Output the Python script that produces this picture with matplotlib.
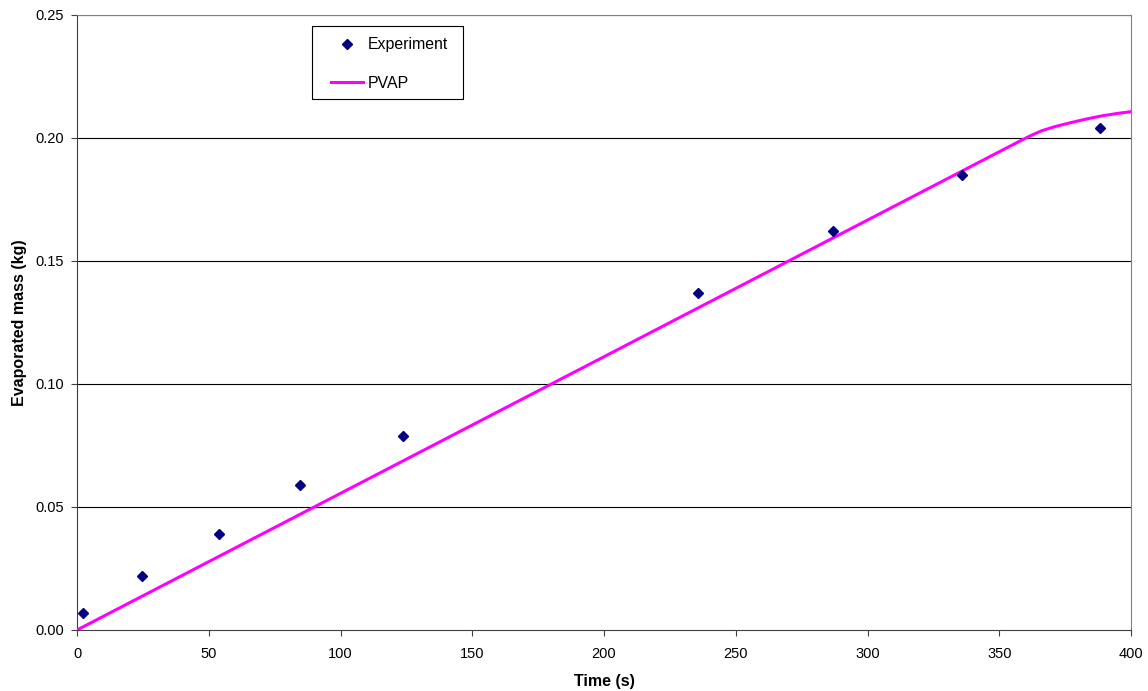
import matplotlib
matplotlib.use("Agg")
import matplotlib.pyplot as plt
from matplotlib.lines import Line2D
from matplotlib.patches import Rectangle

plt.rcParams['font.family'] = ['Liberation Sans', 'DejaVu Sans']

exp_t = [2.3, 24.7, 53.9, 84.6, 123.7, 235.7, 286.9, 335.9, 388.2]
exp_m = [0.007, 0.022, 0.039, 0.059, 0.079, 0.137, 0.162, 0.185, 0.204]

pvap_t = [0, 350, 357, 362, 366, 371, 377, 383, 389, 395, 400]
pvap_m = [0.0, 0.1944, 0.1983, 0.2010, 0.2029, 0.2046, 0.2062, 0.2077, 0.2090, 0.2100, 0.2107]

fig = plt.figure(figsize=(11.48, 6.91), dpi=100)
ax = fig.add_axes([0.0671, 0.0883, 0.9181, 0.89])

for y in [0.05, 0.10, 0.15, 0.20, 0.25]:
    ax.axhline(y, color='black', lw=0.8, zorder=1)

ax.plot(pvap_t, pvap_m, color='#FF00FF', lw=2.2, zorder=3, label='PVAP')
ax.plot(exp_t, exp_m, linestyle='none', marker='D', color='#000080', markersize=5.5, zorder=4, label='Experiment')

ax.set_xlim(0, 400)
ax.set_ylim(0, 0.25)
ax.set_xticks(range(0, 401, 50))
ax.set_yticks([0, 0.05, 0.10, 0.15, 0.20, 0.25])
ax.set_yticklabels(['0.00', '0.05', '0.10', '0.15', '0.20', '0.25'])
ax.tick_params(direction='out', length=4, labelsize=10.5, color='#404040')
ax.tick_params(axis='x', pad=8.5)
ax.tick_params(axis='y', pad=5.5)
for s in ['left', 'bottom']:
    ax.spines[s].set_color('#404040')
for s in ['top', 'right']:
    ax.spines[s].set_color('#808080')

ax.set_xlabel('Time (s)', fontsize=11.5, fontweight='bold', labelpad=9)
ax.set_ylabel('Evaporated mass (kg)', fontsize=11.5, fontweight='bold', labelpad=6)

# legend box
ax.add_patch(Rectangle((0.2230, 0.8634), 0.1432, 0.1187, transform=ax.transAxes,
                       facecolor='white', edgecolor='black', lw=0.8, zorder=5))
handles = [Line2D([], [], linestyle='none', marker='D', color='#000080', markersize=5.5),
           Line2D([], [], color='#FF00FF', lw=2.2)]
leg = ax.legend(handles, ['Experiment', 'PVAP'], loc='upper left',
                bbox_to_anchor=(0.241, 0.964), fontsize=11.4, frameon=False,
                borderpad=0, labelspacing=1.5,
                handlelength=2.05, handletextpad=0.25, borderaxespad=0)
leg.set_zorder(6)

fig.savefig('out.png', dpi=100)
